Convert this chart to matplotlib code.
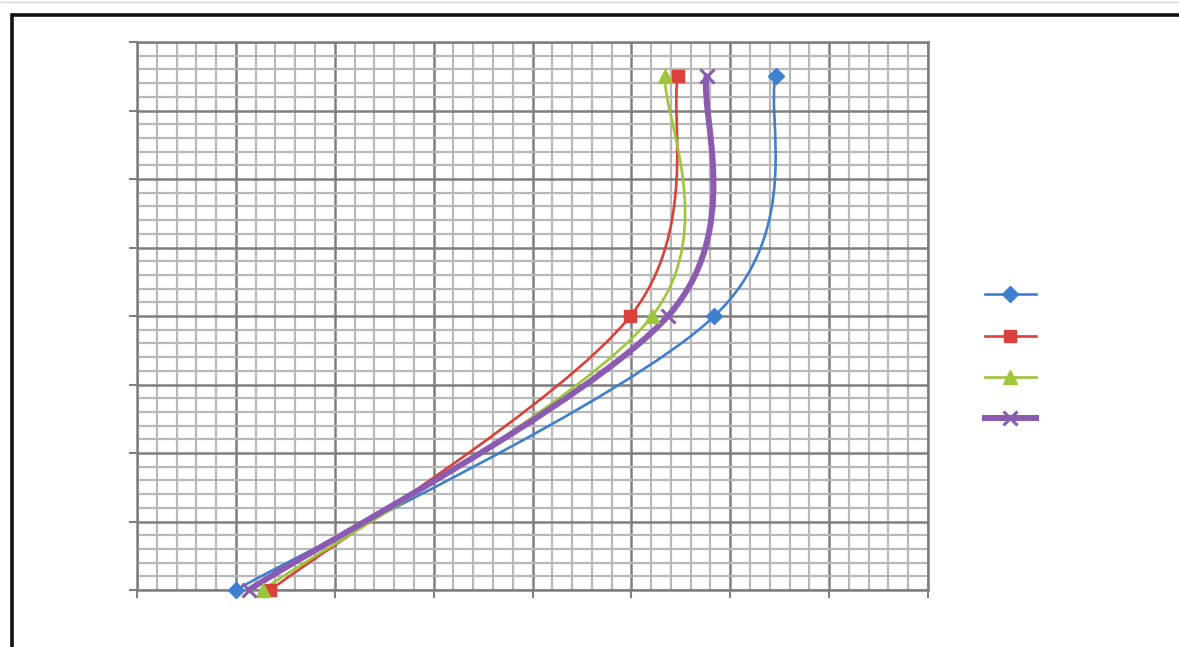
#!/usr/bin/env python3
import numpy as np
import matplotlib
matplotlib.use('Agg')
import matplotlib.pyplot as plt
from matplotlib.path import Path
from matplotlib.patches import PathPatch, Rectangle
from matplotlib.lines import Line2D

# values (axis units = major grid steps)
depth = [0.0, 4.0, 7.5]
blue_x = [1.00, 5.84, 6.46]
red_x = [1.35, 4.99, 5.47]
green_x = [1.27, 5.21, 5.34]
purple_x = [1.13, 5.37, 5.76]

series = [
    (blue_x, '#3f7fcf', 'D', 8, 1.9),
    (red_x, '#d9413a', 's', 9, 1.9),
    (green_x, '#9dc63b', '^', 10, 1.9),
    (purple_x, '#8a5bb0', 'x', 10, 4.3),
]


def smooth_path(xs, ys):
    # Excel-style smoothed line: cubic bezier, catmull-rom tangents
    pts = np.column_stack([xs, ys]).astype(float)
    n = len(pts)
    verts = [pts[0]]
    codes = [Path.MOVETO]
    for i in range(n - 1):
        p_prev = pts[i - 1] if i > 0 else pts[i]
        p_next = pts[i + 2] if i + 2 < n else pts[i + 1]
        c1 = pts[i] + (pts[i + 1] - p_prev) / 6.0
        c2 = pts[i + 1] - (p_next - pts[i]) / 6.0
        verts += [c1, c2, pts[i + 1]]
        codes += [Path.CURVE4] * 3
    return Path(verts, codes)


fig = plt.figure(figsize=(11.79, 6.47), dpi=100)
ax = fig.add_axes([137 / 1179, 1 - 590 / 647, 791 / 1179, 548 / 647])

ax.set_xlim(0, 8)
ax.set_ylim(0, 8)
ax.set_xticks(np.arange(0, 9, 1))
ax.set_yticks(np.arange(0, 9, 1))
ax.set_xticks(np.arange(0, 8.01, 0.2), minor=True)
ax.set_yticks(np.arange(0, 8.01, 0.2), minor=True)
ax.set_xticklabels([])
ax.set_yticklabels([])
ax.grid(which='minor', color='#b8b8b8', linewidth=1.6)
ax.grid(which='major', color='#7f7f7f', linewidth=1.8)
ax.set_axisbelow(True)
ax.tick_params(which='major', direction='out', length=6, width=1.5, color='#7f7f7f')
ax.tick_params(which='minor', length=0)
for sp in ax.spines.values():
    sp.set_color('#7f7f7f')
    sp.set_linewidth(1.8)

handles = []
for xs, color, marker, ms, lw in series:
    ax.add_patch(PathPatch(smooth_path(xs, depth), facecolor='none', edgecolor=color,
                           linewidth=lw, capstyle='round', zorder=3))
    ax.plot(xs, depth, linestyle='none', marker=marker, markersize=ms, color=color,
            markeredgewidth=2.2 if marker == 'x' else 1.0, clip_on=False, zorder=4)
    handles.append(Line2D([], [], color=color, linewidth=lw, marker=marker, markersize=ms,
                          markeredgewidth=2.2 if marker == 'x' else 1.0))

fig.legend(handles, [' '] * 4, loc='center left', bbox_to_anchor=(985 / 1179, 1 - 357.5 / 647),
           frameon=False, fontsize=14, handlelength=2.6, labelspacing=1.15,
           borderpad=0, borderaxespad=0, handletextpad=0.2)

# outer frame around the chart
fig.patches.append(Rectangle((11.5 / 1179, -0.1), 1.2, 1.1 - 15 / 647, transform=fig.transFigure,
                             fill=False, edgecolor='#111111', linewidth=2.6))
fig.patches.append(Rectangle((0, 1 - 1.5 / 647), 1, 0.0, transform=fig.transFigure,
                             fill=False, edgecolor='#d8d8d8', linewidth=1.0))

fig.savefig('out.png', dpi=100)
